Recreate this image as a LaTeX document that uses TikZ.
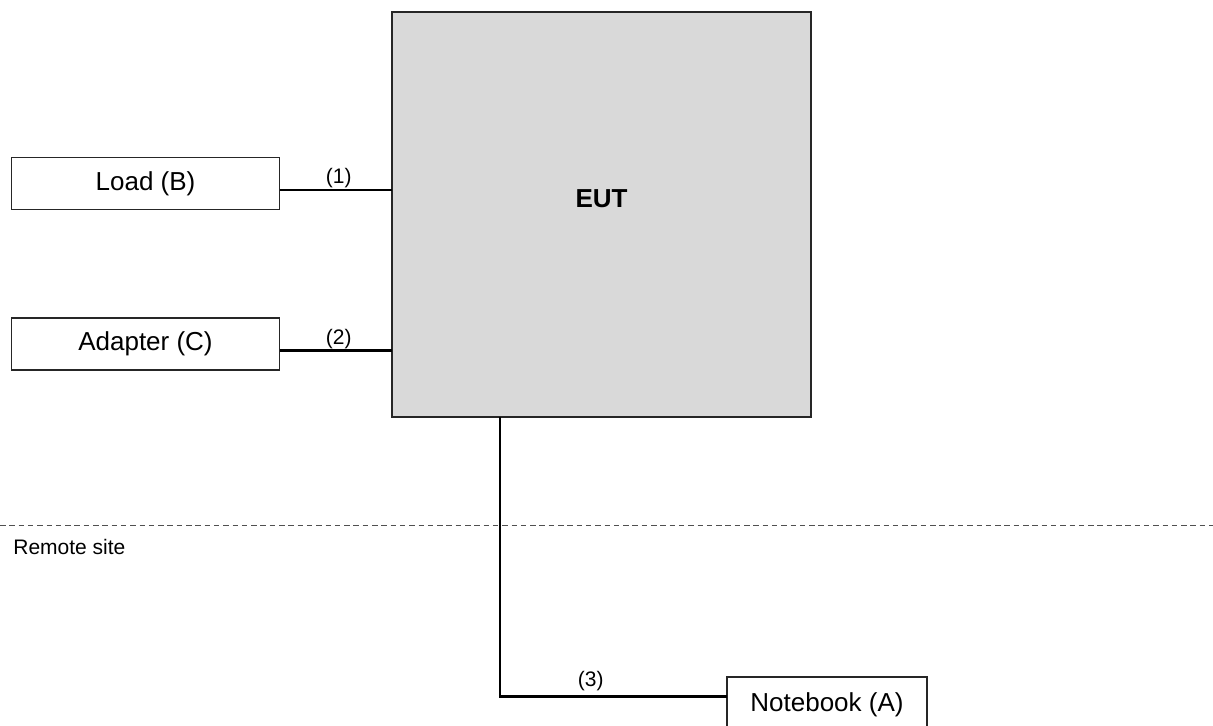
\documentclass[tikz,border=0pt]{standalone}
\usepackage{fontspec}
\setmainfont{Liberation Sans}
\definecolor{eutgray}{HTML}{D9D9D9}
\definecolor{sitegray}{HTML}{505050}

\begin{document}
\begin{tikzpicture}[x=0.5pt,y=-0.5pt,
    unit/.style={draw=black!85,line width=0.6pt,minimum width=134pt,minimum height=26pt,
        inner sep=0pt,outer sep=0pt,font=\fontsize{13}{15}\selectfont},
    cable/.style={line width=1.25pt},
    tag/.style={font=\fontsize{10.5}{12}\selectfont,inner sep=0pt}]
    \useasboundingbox (0,0) rectangle (1213,725);

    % EUT
    \node[draw=black!85,line width=0.8pt,fill=eutgray,minimum width=209.5pt,
        minimum height=202.5pt,inner sep=0pt,outer sep=0pt] (eut) at (601.5,214.5) {};
    \node[font=\bfseries\fontsize{13}{15}\selectfont] (eutname) at (601.5,199) {EUT};

    % Load (B) and Adapter (C)
    \node[unit] (load) at (145.5,183.5) {Load (B)};
    \node[unit] (adapter) at (145.5,344) {Adapter (C)};
    \draw[cable] ([yshift=-3.25pt]load.east) -- ([yshift=-3.25pt]load.east -| eut.west)
        node[tag,midway,above=0.4pt,xshift=1.5pt] (c1) {(1)};
    \draw[cable] ([yshift=-3.25pt]adapter.east) -- ([yshift=-3.25pt]adapter.east -| eut.west)
        node[tag,midway,above=0.2pt,xshift=1.5pt] (c2) {(2)};

    % Remote site
    \coordinate (siteL) at (0,525);
    \coordinate (siteR) at (1213,525);
    \draw[sitegray,line width=0.5pt,dash pattern=on 2.75pt off 1.9pt] (siteL) -- (siteR);
    \node[anchor=west,font=\fontsize{10.5}{12}\selectfont,inner sep=0pt] (remote) at (13,547) {Remote site};

    % Notebook (A)
    \node[unit,minimum width=100pt,minimum height=28pt] (notebook) at (827,705) {Notebook (A)};
    \draw[cable] ([xshift=-50.75pt]eut.south) |- ([yshift=4.15pt]notebook.west)
        node[tag,pos=0.7,above=2.3pt] (c3) {(3)};
\end{tikzpicture}
\end{document}
